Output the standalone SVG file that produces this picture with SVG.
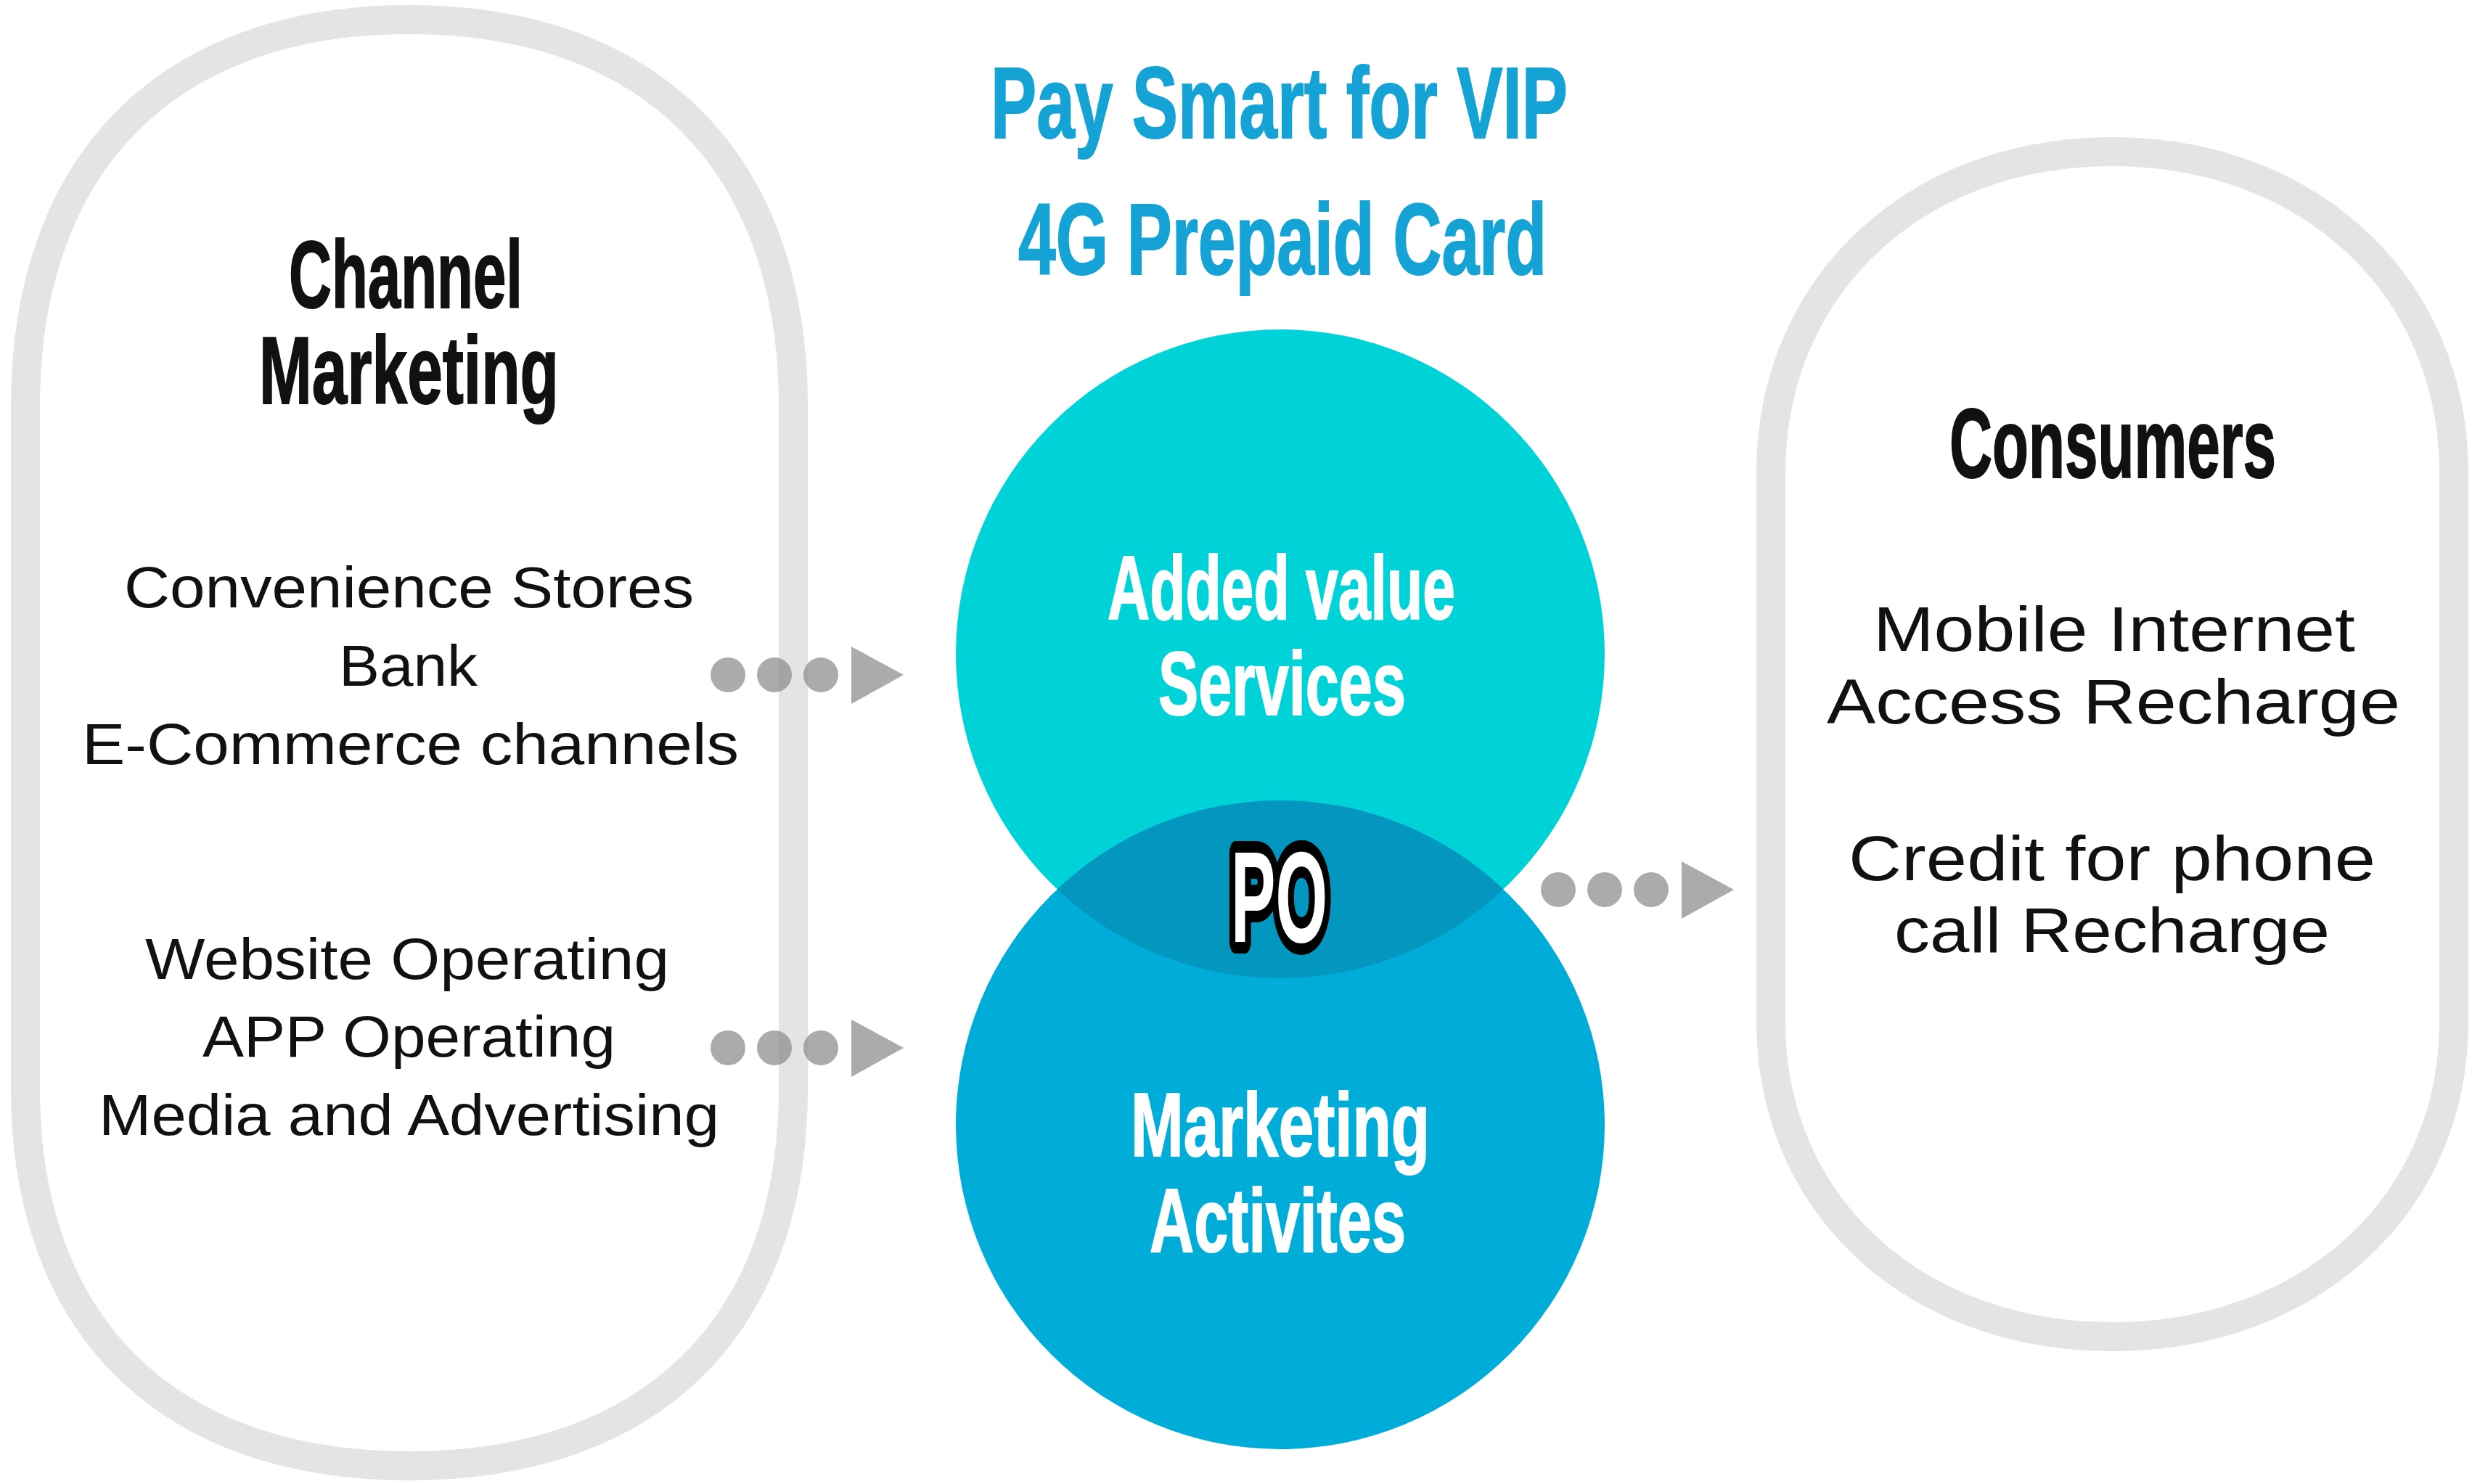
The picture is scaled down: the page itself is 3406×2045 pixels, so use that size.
<svg xmlns="http://www.w3.org/2000/svg" width="3406" height="2045" viewBox="0 0 3406 2045">
<style>
.cap{fill:none;stroke:#e4e4e4;stroke-width:40}
.hd{font-family:"Liberation Sans",Arial,sans-serif;font-weight:bold}
.blk{fill:#111;stroke:#111;stroke-width:2}
.ttl{fill:#15a3d6;stroke:#15a3d6;stroke-width:2}
.wht{fill:#fff;stroke:#fff;stroke-width:2}
.bd{font-family:"Liberation Sans",Arial,sans-serif;fill:#111}
.po{fill:#fff;stroke:#000;stroke-width:32;stroke-linejoin:round;paint-order:stroke}
.dot{fill:#8a8a8a;fill-opacity:0.72}
</style>
<defs>
<g id="dotarrow">
<circle class="dot" cx="0" cy="0" r="24"/>
<circle class="dot" cx="64" cy="0" r="24"/>
<circle class="dot" cx="128" cy="0" r="24"/>
<polygon class="dot" points="170,-39 170,40 242,0"/>
</g>
<clipPath id="topclip"><circle cx="1764" cy="901" r="447"/></clipPath>
</defs>
<rect width="3406" height="2045" fill="#fff"/>
<g id="node-channel">
<path class="cap" d="M35,560 C35,224 231,27 564,27 C897,27 1093,224 1093,560 L1093,1500 C1093,1828 897,2020 564,2020 C231,2020 35,1828 35,1500 Z"/>
<text class="hd blk" x="398" y="424" font-size="132" textLength="322" lengthAdjust="spacingAndGlyphs">Channel</text>
<text class="hd blk" x="357" y="556" font-size="132" textLength="413" lengthAdjust="spacingAndGlyphs">Marketing</text>
<text class="bd" x="171" y="837" font-size="80" textLength="785" lengthAdjust="spacingAndGlyphs">Convenience Stores</text>
<text class="bd" x="467" y="945" font-size="80" textLength="191" lengthAdjust="spacingAndGlyphs">Bank</text>
<text class="bd" x="113" y="1053" font-size="80" textLength="905" lengthAdjust="spacingAndGlyphs">E-Commerce channels</text>
<text class="bd" x="200" y="1349" font-size="80" textLength="722" lengthAdjust="spacingAndGlyphs">Website Operating</text>
<text class="bd" x="279" y="1456" font-size="80" textLength="569" lengthAdjust="spacingAndGlyphs">APP Operating</text>
<text class="bd" x="136" y="1564" font-size="80" textLength="855" lengthAdjust="spacingAndGlyphs">Media and Advertising</text>
</g>
<g id="node-consumers">
<path class="cap" d="M2440,652 C2440,395 2637,209 2910,209 C3183,209 3381,395 3381,652 L3381,1408 C3381,1660 3183,1842 2910,1842 C2637,1842 2440,1660 2440,1408 Z"/>
<text class="hd blk" x="2686" y="658" font-size="136" textLength="450" lengthAdjust="spacingAndGlyphs">Consumers</text>
<text class="bd" x="2581" y="897" font-size="88" textLength="664" lengthAdjust="spacingAndGlyphs">Mobile Internet</text>
<text class="bd" x="2517" y="997" font-size="88" textLength="790" lengthAdjust="spacingAndGlyphs">Access Recharge</text>
<text class="bd" x="2547" y="1213" font-size="88" textLength="726" lengthAdjust="spacingAndGlyphs">Credit for phone</text>
<text class="bd" x="2610" y="1312" font-size="88" textLength="600" lengthAdjust="spacingAndGlyphs">call Recharge</text>
</g>
<g id="node-title">
<text class="hd ttl" x="1365" y="190" font-size="140" textLength="795" lengthAdjust="spacingAndGlyphs">Pay Smart for VIP</text>
<text class="hd ttl" x="1403" y="378" font-size="140" textLength="728" lengthAdjust="spacingAndGlyphs">4G Prepaid Card</text>
</g>
<g id="connectors">
<use href="#dotarrow" x="1003" y="930"/>
<use href="#dotarrow" x="1003" y="1444"/>
<use href="#dotarrow" x="2147" y="1226"/>
</g>
<g id="node-added-value">
<circle cx="1764" cy="901" r="447" fill="#00d3d8"/>
</g>
<g id="node-marketing">
<circle cx="1764" cy="1550" r="447" fill="#00acd8"/>
</g>
<g id="node-po">
<circle cx="1764" cy="1550" r="447" fill="#0396bf" clip-path="url(#topclip)"/>
</g>
<g id="labels-circles">
<text class="hd wht" x="1526" y="853" font-size="124" textLength="479" lengthAdjust="spacingAndGlyphs">Added value</text>
<text class="hd wht" x="1596" y="985" font-size="124" textLength="341" lengthAdjust="spacingAndGlyphs">Services</text>
<text class="hd wht" x="1558" y="1593" font-size="124" textLength="412" lengthAdjust="spacingAndGlyphs">Marketing</text>
<text class="hd wht" x="1584" y="1725" font-size="124" textLength="353" lengthAdjust="spacingAndGlyphs">Activites</text>
<text class="hd po" x="1696" y="1298" font-size="178" textLength="133" lengthAdjust="spacingAndGlyphs">PO</text>
</g>
</svg>
